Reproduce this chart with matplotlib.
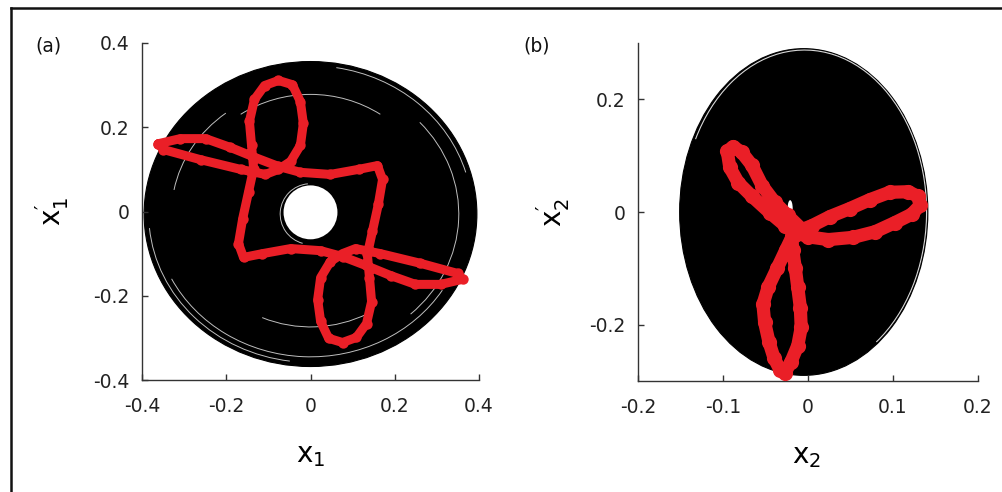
import matplotlib
matplotlib.use("Agg")
import matplotlib.pyplot as plt
from matplotlib.patches import Ellipse, Arc
from matplotlib.lines import Line2D

plt.rcParams['font.family'] = ['DejaVu Sans']
plt.rcParams['mathtext.fontset'] = 'dejavusans'
plt.rcParams['mathtext.default'] = 'regular'

RED = '#ea1f27'
AXCOL = '#333333'

# ---------------- panel (a): x1 / x1' ----------------
a_xticks = [-0.4, -0.2, 0, 0.2, 0.4]
a_xticklabels = ['-0.4', '-0.2', '0', '0.2', '0.4']
a_yticks = [-0.4, -0.2, 0, 0.2, 0.4]
a_yticklabels = ['-0.4', '-0.2', '0', '0.2', '0.4']
a_orbit_center = (0.0, -0.006)
a_orbit_semi = (0.395, 0.362)
a_hole_center = (0.0, -0.002)
a_hole_radius = 0.064
# thin gaps between trajectory bundles: (semi-x, semi-y, theta1, theta2)
a_gap_rings = [
    (0.384, 0.352, 185, 262),
    (0.384, 0.352, 15, 80),
    (0.370, 0.339, 205, 330),
    (0.352, 0.322, -45, 40),
    (0.300, 0.284, 55, 125),
    (0.288, 0.268, 245, 300),
    (0.330, 0.302, 130, 170),
    (0.072, 0.072, 95, 255),
]
a_section_x = [-0.361, -0.309, -0.249, -0.190, -0.131, -0.076, -0.024, 0.047, 0.114, 0.159,
               0.171, 0.161, 0.147, 0.135, 0.140, 0.145, 0.133, 0.109, 0.076, 0.043,
               0.024, 0.017, 0.024, 0.047, 0.076, 0.107, 0.166, 0.261, 0.349,
               0.361, 0.309, 0.249, 0.190, 0.131, 0.076, 0.024, -0.047, -0.114, -0.159,
               -0.171, -0.161, -0.147, -0.135, -0.140, -0.145, -0.133, -0.109, -0.076, -0.043,
               -0.024, -0.017, -0.024, -0.047, -0.076, -0.107, -0.166, -0.261, -0.349, -0.361]
a_section_y = [0.161, 0.173, 0.173, 0.152, 0.128, 0.107, 0.093, 0.088, 0.100, 0.109,
               0.076, 0.017, -0.047, -0.102, -0.157, -0.214, -0.266, -0.299, -0.311, -0.301,
               -0.261, -0.209, -0.157, -0.119, -0.100, -0.088, -0.100, -0.123, -0.147,
               -0.161, -0.173, -0.173, -0.152, -0.128, -0.107, -0.093, -0.088, -0.100, -0.109,
               -0.076, -0.017, 0.047, 0.102, 0.157, 0.214, 0.266, 0.299, 0.311, 0.301,
               0.261, 0.209, 0.157, 0.119, 0.100, 0.088, 0.100, 0.123, 0.147, 0.161]

# ---------------- panel (b): x2 / x2' ----------------
b_xticks = [-0.2, -0.1, 0, 0.1, 0.2]
b_xticklabels = ['-0.2', '-0.1', '0', '0.1', '0.2']
b_yticks = [-0.2, 0, 0.2]
b_yticklabels = ['-0.2', '0', '0.2']
b_orbit_center = (-0.005, 0.0)
b_orbit_semi = (0.146, 0.290)
b_rim = (-0.004, 0.001, 0.1435, 0.2865, -70, 135)
b_gap_center = (-0.021, 0.006)
b_gap_size = (0.006, 0.030)
b_lobe1_x = [-0.015, -0.007, -0.024, -0.039, -0.054, -0.066, -0.078, -0.088, -0.095,
             -0.092, -0.082, -0.066, -0.045, -0.027, -0.015]
b_lobe1_y = [-0.036, -0.031, -0.006, 0.017, 0.047, 0.083, 0.106, 0.116, 0.108,
             0.079, 0.052, 0.028, -0.001, -0.024, -0.040]
b_lobe2_x = [-0.015, 0.005, 0.026, 0.049, 0.073, 0.096, 0.118, 0.129, 0.132, 0.122,
             0.102, 0.079, 0.053, 0.024, 0.000, -0.015]
b_lobe2_y = [-0.036, -0.024, -0.008, 0.006, 0.022, 0.035, 0.036, 0.028, 0.012, -0.004,
             -0.019, -0.035, -0.045, -0.049, -0.044, -0.036]
b_lobe3_x = [-0.019, -0.026, -0.036, -0.047, -0.053, -0.051, -0.046, -0.040, -0.033,
             -0.027, -0.020, -0.012, -0.008, -0.009, -0.012, -0.015, -0.018, -0.019]
b_lobe3_y = [-0.045, -0.067, -0.099, -0.134, -0.164, -0.196, -0.230, -0.259, -0.280,
             -0.285, -0.266, -0.237, -0.205, -0.170, -0.134, -0.099, -0.067, -0.045]

W, H = 1003, 492
fig = plt.figure(figsize=(W / 100, H / 100), dpi=100)


def style_axes(ax, xt, xtl, yt, ytl, xlim, ylim):
    ax.set_xlim(*xlim)
    ax.set_ylim(*ylim)
    ax.set_xticks(xt)
    ax.set_xticklabels(xtl)
    ax.set_yticks(yt)
    ax.set_yticklabels(ytl)
    for s in ('top', 'right'):
        ax.spines[s].set_visible(False)
    for s in ('left', 'bottom'):
        ax.spines[s].set_color(AXCOL)
        ax.spines[s].set_linewidth(1.0)
    ax.tick_params(direction='in', length=4, width=1.0, colors=AXCOL,
                   labelsize=13.5, labelcolor='#222222')
    ax.tick_params(axis='y', pad=9)
    ax.tick_params(axis='x', pad=12)


def section(ax, xs, ys, lw):
    ax.plot(xs, ys, color=RED, lw=lw, solid_joinstyle='round', solid_capstyle='round',
            marker='o', ms=lw * 1.15, mec='none', mfc=RED, zorder=3)


# panel (a)
axa = fig.add_axes([142 / W, 112 / H, 337 / W, 337 / H])
style_axes(axa, a_xticks, a_xticklabels, a_yticks, a_yticklabels, (-0.4, 0.4), (-0.4, 0.4))
axa.add_patch(Ellipse(a_orbit_center, 2 * a_orbit_semi[0], 2 * a_orbit_semi[1],
                      facecolor='black', edgecolor='black', lw=0.8, zorder=1))
for rx, ry, t1, t2 in a_gap_rings:
    axa.add_patch(Arc(a_orbit_center, 2 * rx, 2 * ry, theta1=t1, theta2=t2,
                      color='white', lw=0.7, alpha=0.75, zorder=2))
axa.add_patch(Ellipse(a_hole_center, 2 * a_hole_radius, 2 * a_hole_radius,
                      facecolor='white', edgecolor='none', zorder=2))
section(axa, a_section_x, a_section_y, 6.5)
axa.set_xlabel(r'$x_1$', fontsize=20)
axa.xaxis.set_label_coords(0.5, -0.18)
axa.set_ylabel(r'$x_1^{\prime}$', fontsize=20)
axa.yaxis.set_label_coords(-0.21, 0.5)

# panel (b)
axb = fig.add_axes([638 / W, 111 / H, 340 / W, 338 / H])
style_axes(axb, b_xticks, b_xticklabels, b_yticks, b_yticklabels, (-0.2, 0.2), (-0.3, 0.3))
axb.add_patch(Ellipse(b_orbit_center, 2 * b_orbit_semi[0], 2 * b_orbit_semi[1],
                      facecolor='black', edgecolor='black', lw=0.8, zorder=1))
cx, cy, rx, ry, t1, t2 = b_rim
axb.add_patch(Arc((cx, cy), 2 * rx, 2 * ry, theta1=t1, theta2=t2,
                  color='white', lw=0.8, alpha=0.85, zorder=2))
axb.add_patch(Ellipse(b_gap_center, b_gap_size[0], b_gap_size[1],
                      facecolor='white', edgecolor='none', zorder=2))
for lx, ly in ((b_lobe1_x, b_lobe1_y), (b_lobe2_x, b_lobe2_y), (b_lobe3_x, b_lobe3_y)):
    section(axb, lx, ly, 9.5)
axb.set_xlabel(r'$x_2$', fontsize=20)
axb.xaxis.set_label_coords(0.497, -0.18)
axb.set_ylabel(r'$x_2^{\prime}$', fontsize=20)
axb.yaxis.set_label_coords(-0.195, 0.5)

# panel letters
fig.text(35 / W, 1 - 46 / H, '(a)', fontsize=13.5, va='center', ha='left', color='#111111')
fig.text(523 / W, 1 - 46 / H, '(b)', fontsize=13.5, va='center', ha='left', color='#111111')

# outer frame (left and top edges)
fig.add_artist(Line2D([11 / W, 11 / W], [0, 1 - 8 / H], transform=fig.transFigure,
                      color='#111111', lw=1.8))
fig.add_artist(Line2D([11 / W, 1], [1 - 8 / H, 1 - 8 / H], transform=fig.transFigure,
                      color='#111111', lw=1.8))

fig.savefig('out.png', dpi=100)
